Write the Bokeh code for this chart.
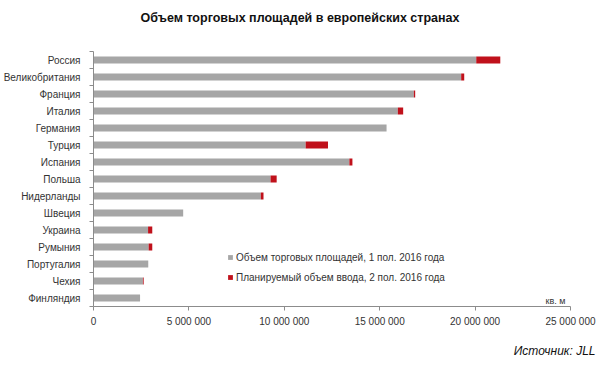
from bokeh.plotting import figure
from bokeh.models import ColumnDataSource, Range1d, FixedTicker, Label, Legend, Title
from bokeh.embed import file_html
from bokeh.resources import INLINE

countries = ["Россия", "Великобритания", "Франция", "Италия", "Германия", "Турция",
             "Испания", "Польша", "Нидерланды", "Швеция", "Украина", "Румыния",
             "Португалия", "Чехия", "Финляндия"]
existing = [20060000, 19270000, 16790000, 15950000, 15360000, 11120000, 13410000,
            9280000, 8770000, 4700000, 2860000, 2890000, 2870000, 2590000, 2440000]
planned = [1260000, 160000, 70000, 280000, 0, 1170000, 160000,
           320000, 140000, 0, 220000, 190000, 0, 40000, 0]
series_names = ["Объем торговых площадей, 1 пол. 2016 года",
                "Планируемый объем ввода, 2 пол. 2016 года"]
x_ticks = [0, 5000000, 10000000, 15000000, 20000000, 25000000]
x_tick_labels = ["0", "5 000 000", "10 000 000", "15 000 000", "20 000 000", "25 000 000"]
title_text = "Объем торговых площадей в европейских странах"
unit_text = "кв. м"
source_text = "Источник: JLL"

GRAY = "#a6a6a6"
RED = "#c0111b"
FONT = "Liberation Sans"

n = len(countries)
ypos = [n - i - 0.5 for i in range(n)]
src = ColumnDataSource(dict(y=ypos, existing=existing, planned=planned, country=countries))

p = figure(width=600, height=373, output_backend="svg", toolbar_location=None,
           x_range=Range1d(0, 25000000), y_range=Range1d(0, n),
           min_border_left=92, min_border_right=30, min_border_top=50, min_border_bottom=64)
p.outline_line_color = None
p.xgrid.visible = False
p.ygrid.visible = False
p.background_fill_color = "white"
p.border_fill_color = "white"

p.hbar_stack(["existing", "planned"], y="y", height=0.42, color=[GRAY, RED],
             line_color=None, source=src)

# legend
r1, r2 = p.renderers[0], p.renderers[1]
legend = Legend(items=[(series_names[0], [r1]), (series_names[1], [r2])],
                location=(134, 22), border_line_color=None, background_fill_alpha=0,
                padding=0, margin=0, spacing=6, glyph_width=6, glyph_height=6,
                label_height=14, label_standoff=3,
                label_text_font=FONT, label_text_font_size="10px", label_text_color="#333333")
p.add_layout(legend, "center")

# x axis
xa = p.xaxis[0]
xa.ticker = FixedTicker(ticks=x_ticks, minor_ticks=[])
xa.major_label_overrides = {t: l for t, l in zip(x_ticks, x_tick_labels)}
xa.axis_line_color = "#8c8c8c"
xa.major_tick_line_color = "#8c8c8c"
xa.major_tick_out = 4
xa.major_tick_in = 0
xa.major_label_text_font = FONT
xa.major_label_text_font_size = "10px"
xa.major_label_text_color = "#333333"
xa.major_label_standoff = 5

# y axis
ya = p.yaxis[0]
ya.ticker = FixedTicker(ticks=ypos, minor_ticks=list(range(n + 1)))
ya.major_label_overrides = {y: c for y, c in zip(ypos, countries)}
ya.axis_line_color = "#8c8c8c"
ya.major_tick_line_color = None
ya.major_tick_out = 0
ya.major_tick_in = 0
ya.minor_tick_line_color = "#8c8c8c"
ya.minor_tick_out = 4
ya.minor_tick_in = 0
ya.major_label_text_font = FONT
ya.major_label_text_font_size = "10px"
ya.major_label_text_color = "#333333"
ya.major_label_standoff = 9

# spacer between frame and title (nearest to frame)
p.add_layout(Title(text=" ", text_font_size="10px", standoff=2), "above")
# main title (outermost)
p.title.text = title_text
p.title.align = "left"
p.title.offset = 47
p.title.vertical_align = "top"
p.title.standoff = 20
p.title.text_font = FONT
p.title.text_font_style = "bold"
p.title.text_font_size = "12.5px"
p.title.text_color = "#111111"

# unit label
p.add_layout(Label(x=25000000, y=0, text=unit_text, text_align="right",
                   text_baseline="bottom", x_offset=-5, y_offset=1,
                   text_font=FONT, text_font_size="9px", text_color="#333333"))
# source
p.add_layout(Title(text=source_text, align="right", offset=-25, standoff=28,
                   vertical_align="top",
                   text_font=FONT, text_font_style="italic", text_font_size="12px",
                   text_color="#111111"), "below")

open("out.html", "w").write(file_html(p, INLINE))
